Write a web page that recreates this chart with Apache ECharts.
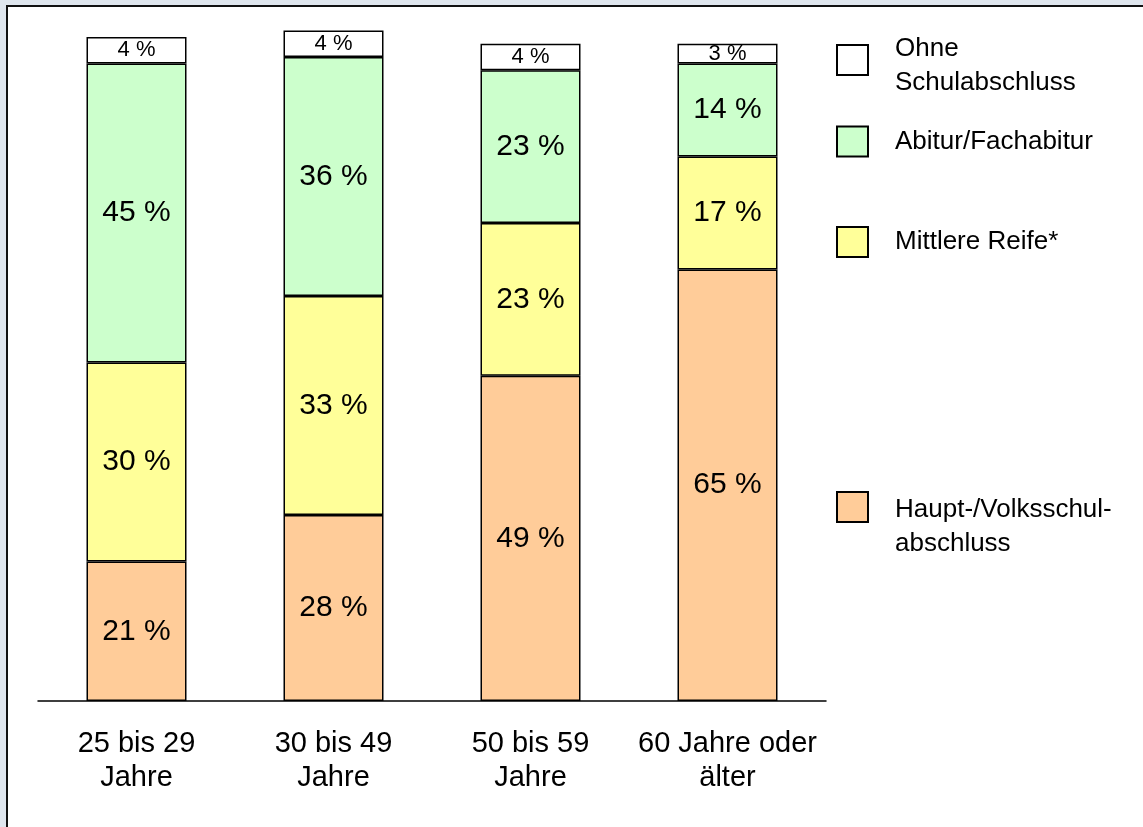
<!DOCTYPE html>
<html lang="de">
<head>
<meta charset="utf-8">
<title>Schulabschluss nach Altersgruppen</title>
<script src="https://cdn.jsdelivr.net/npm/echarts@6/dist/echarts.min.js"></script>
<style>
  html, body { margin: 0; padding: 0; background: #dfe6ee; }
  #chart { width: 1143px; height: 827px; }
</style>
</head>
<body>
<div id="chart"></div>
<script>
// Altersgruppen (x-axis categories)
const categories = ['25 bis 29\nJahre', '30 bis 49\nJahre', '50 bis 59\nJahre', '60 Jahre oder\nälter'];

// Anteile in Prozent je Abschluss, von unten nach oben gestapelt
const hauptschule = [21, 28, 49, 65];
const mittlereReife = [30, 33, 23, 17];
const abitur = [45, 36, 23, 14];
const ohneAbschluss = [4, 4, 4, 3];

const seriesNames = ['Haupt-/Volksschulabschluss', 'Mittlere Reife*', 'Abitur/Fachabitur', 'Ohne Schulabschluss'];

// Legend texts; an empty first line nudges the label relative to its swatch
const legendText = {
  'Ohne Schulabschluss': '{s| }\n{t|Ohne}\n{t|Schulabschluss}',
  'Abitur/Fachabitur': '{t|Abitur/Fachabitur}',
  'Mittlere Reife*': '{t|Mittlere Reife*}',
  'Haupt-/Volksschulabschluss': '{b| }\n{t|Haupt-/Volksschul-}\n{t|abschluss}'
};

const FONT = '"Liberation Sans", Arial, Helvetica, sans-serif';

function barSeries(name, data, color, labelSize) {
  return {
    name: name,
    type: 'bar',
    stack: 'total',
    data: data,
    barWidth: 100,
    itemStyle: { color: color, borderColor: '#000', borderWidth: 1.5 },
    label: {
      show: true,
      position: 'inside',
      formatter: '{c} %',
      color: '#000',
      fontFamily: FONT,
      fontSize: labelSize
    },
    emphasis: { disabled: true }
  };
}

function legendBlock(name, top) {
  return {
    data: [name],
    left: 836,
    top: top,
    orient: 'vertical',
    itemWidth: 31,
    itemHeight: 30,
    icon: 'rect',
    padding: 0,
    itemStyle: { borderColor: '#000', borderWidth: 2 },
    formatter: n => legendText[n],
    textStyle: {
      fontFamily: FONT,
      fontSize: 26,
      lineHeight: 34,
      color: '#000',
      padding: [0, 0, 0, 22],
      rich: {
        t: { fontFamily: FONT, fontSize: 26, lineHeight: 34, color: '#000' },
        s: { fontSize: 1, lineHeight: 11 },
        b: { fontSize: 1, lineHeight: 40 }
      }
    }
  };
}

const chart = echarts.init(document.getElementById('chart'), null, { renderer: 'canvas' });

chart.setOption({
  backgroundColor: '#dfe6ee',
  animation: false,
  textStyle: { fontFamily: FONT },
  graphic: [{
    type: 'rect',
    z: -10,
    silent: true,
    shape: { x: 7, y: 6, width: 1200, height: 900 },
    style: { fill: '#ffffff', stroke: '#111111', lineWidth: 2 }
  }],
  legend: [
    legendBlock('Ohne Schulabschluss', 20.5),
    legendBlock('Abitur/Fachabitur', 124.5),
    legendBlock('Mittlere Reife*', 225),
    legendBlock('Haupt-/Volksschulabschluss', 453)
  ],
  grid: { left: 38, width: 788, top: 30.4, height: 670.6, containLabel: false },
  xAxis: {
    type: 'category',
    data: categories,
    axisLine: { lineStyle: { color: '#000', width: 1.5 } },
    axisTick: { show: false },
    axisLabel: {
      color: '#000',
      fontFamily: FONT,
      fontSize: 29,
      lineHeight: 34,
      margin: 26,
      interval: 0
    }
  },
  yAxis: {
    type: 'value',
    min: 0,
    max: 101,
    show: false,
    splitLine: { show: false }
  },
  series: [
    barSeries(seriesNames[0], hauptschule, '#ffcc99', 30),
    barSeries(seriesNames[1], mittlereReife, '#ffff99', 30),
    barSeries(seriesNames[2], abitur, '#ccffcc', 30),
    barSeries(seriesNames[3], ohneAbschluss, '#ffffff', 22)
  ]
});
</script>
</body>
</html>
